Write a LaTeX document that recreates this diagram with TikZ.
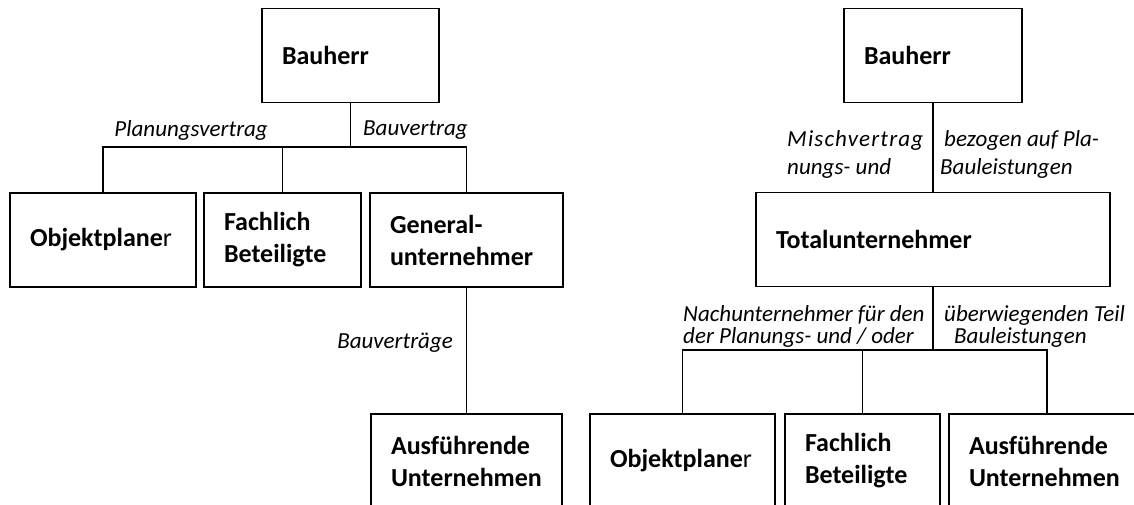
\documentclass[tikz,border=0pt]{standalone}
\usepackage{fontspec}
\setmainfont{Carlito}
\usepackage{tikz}
\usetikzlibrary{positioning}
\tikzstyle{block} = [draw, rectangle, line width=1.4pt, align=left,
    inner xsep=20pt, minimum height=94pt,
    font=\fontsize{26pt}{32pt}\selectfont\bfseries]
\tikzstyle{lbl} = [inner sep=0pt, align=left,
    font=\fontsize{23pt}{28pt}\selectfont\itshape]
\tikzstyle{lbltight} = [lbl, font=\fontsize{23pt}{22pt}\selectfont\itshape]
\tikzstyle{conn} = [draw, line width=1.4pt]
\tikzstyle{hub} = [coordinate]

\begin{document}
\begin{tikzpicture}[x=1pt, y=1pt]
    \useasboundingbox (0,0) rectangle (1134,-504);
    \node [block, text width=137pt] (bauL) at (350.5,-55.5) {Bauherr};
    \node [block, text width=146pt] (objL) at (103,-240) {Objektplane\mdseries r};
    \node [block, text width=117pt, right of=objL, node distance=179.5pt] (fachL) {Fachlich\\Beteiligte};
    \node [block, text width=153pt, right of=fachL, node distance=184pt] (genL) {General-\\unternehmer};
    \node [block, text width=151pt, below of=genL, node distance=221pt] (ausL) {Ausführende\\Unternehmen};
    \node [hub, below of=bauL, node distance=91.5pt] (hubL) {};
    \node [block, text width=138pt] (bauR) at (933,-55.5) {Bauherr};
    \node [block, text width=314pt, below of=bauR, node distance=184pt] (totR) {Totalunternehmer};
    \node [block, text width=145pt] (objR) at (682.5,-461) {Objektplane\mdseries r};
    \node [block, text width=115pt, right of=objR, node distance=180pt] (fachR) {Fachlich\\Beteiligte};
    \node [block, text width=156pt, right of=fachR, node distance=184.5pt] (ausR) {Ausführende\\Unternehmen};
    \node [hub, below of=totR, node distance=110.5pt] (hubR) {};
    \node [lbl, anchor=east] (planV) at (268,-130) {Planungsvertrag};
    \node [lbl, anchor=west] (bauV) at (363,-130) {Bauvertrag};
    \node [lbl, anchor=east] (bauVs) at (453,-343) {Bauverträge};
    \node [lbl, anchor=west] (mischV) at (787,-154) {{\addfontfeature{LetterSpace=5}Mischvertrag}\\nungs- und};
    \node [lbl, anchor=west] (bezV) at (940,-154) {\hspace*{4pt}bezogen auf Pla-\\Bauleistungen};
    \node [lbltight, anchor=west] (nachV) at (683,-326) {Nachunternehmer für den\\der Planungs- und / oder};
    \node [lbltight, anchor=west] (teilV) at (944,-326) {überwiegenden Teil\\\hspace*{10pt}Bauleistungen};
    \draw [conn] (bauL) -- (hubL);
    \draw [conn] (hubL) -| (objL);
    \draw [conn] (hubL) -| (fachL);
    \draw [conn] (hubL) -| (genL);
    \draw [conn] (genL) -- (ausL);
    \draw [conn] (bauR) -- (totR);
    \draw [conn] (totR) -- (hubR);
    \draw [conn] (hubR) -| (objR);
    \draw [conn] (hubR) -| (fachR);
    \draw [conn] (hubR) -| (ausR);
\end{tikzpicture}
\end{document}
